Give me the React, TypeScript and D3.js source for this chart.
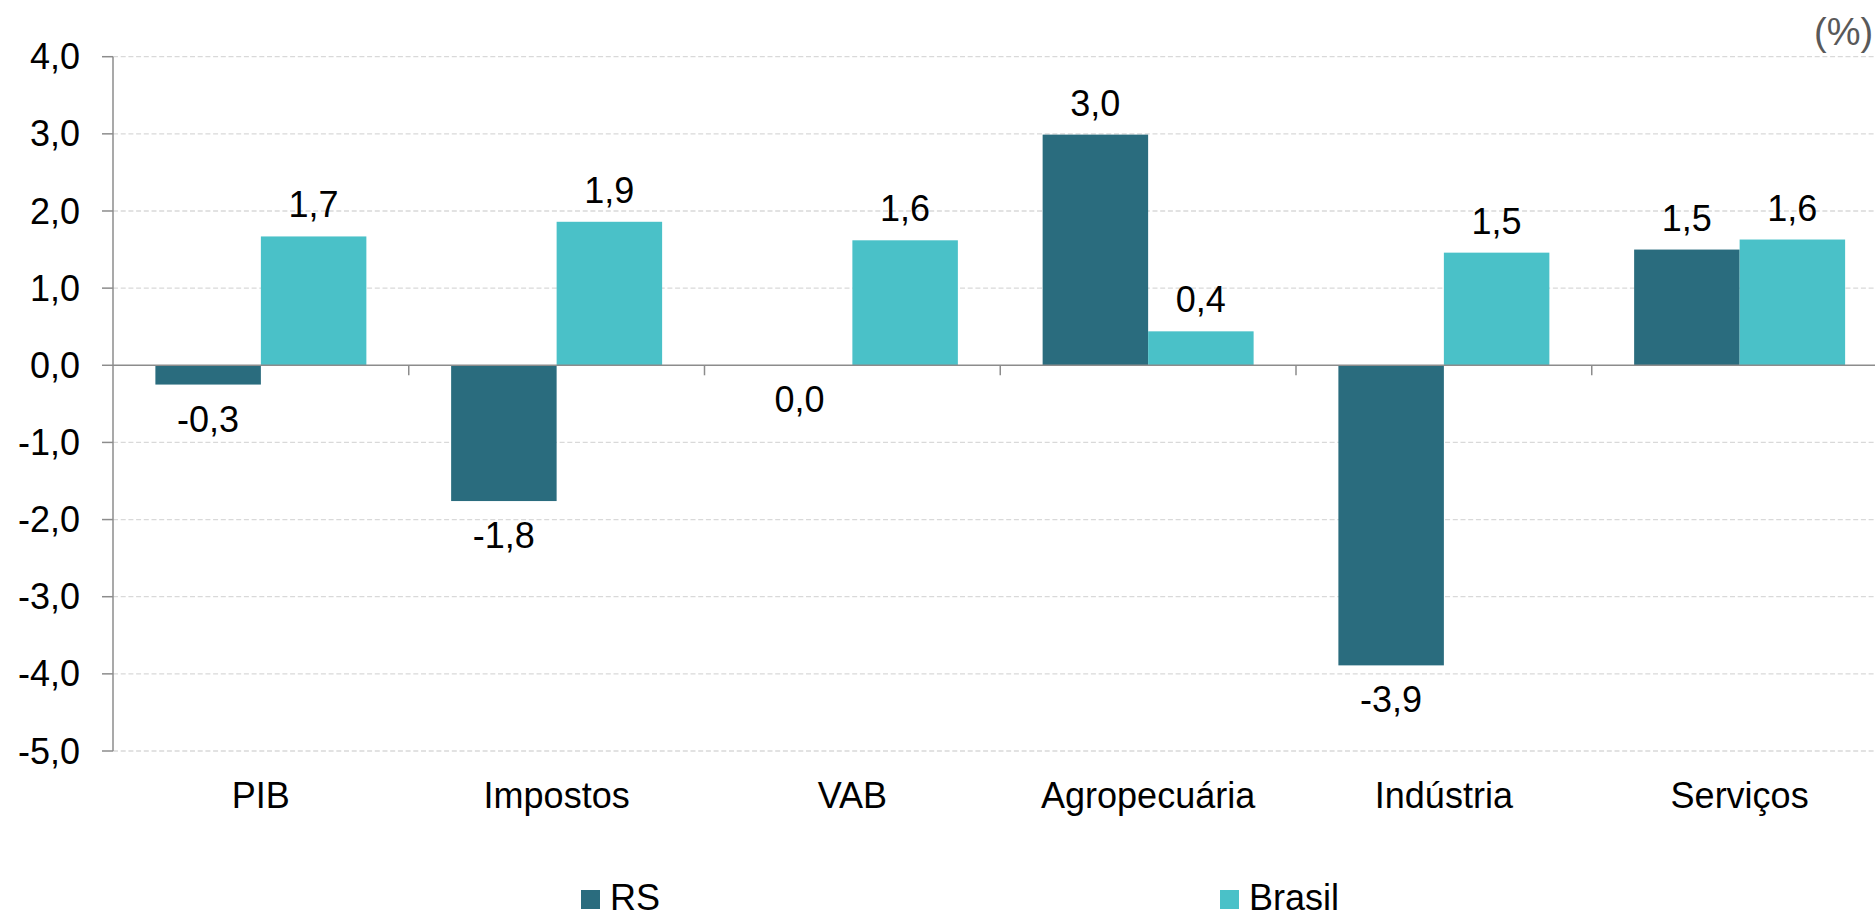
import React from "react";
import * as d3 from "d3";

const categories = ["PIB", "Impostos", "VAB", "Agropecuária", "Indústria", "Serviços"];
const seriesNames = ["RS", "Brasil"];
const rsValues = [-0.25, -1.76, 0.0, 2.99, -3.89, 1.5];
const brasilValues = [1.67, 1.86, 1.62, 0.44, 1.46, 1.63];
const yTicks = [4, 3, 2, 1, 0, -1, -2, -3, -4, -5];
const unitLabel = "(%)";

const W = 1875;
const H = 917;
const FONT = "'Liberation Sans', Arial, Helvetica, sans-serif";
const COLORS = ["#2a6c7e", "#4ac1c8"];

export default function App() {
  const left = 113;
  const right = 1887.5;
  const top = 56.7;
  const bottom = 751;

  const x0 = d3
    .scaleBand<string>()
    .domain(categories)
    .range([left, right])
    .paddingInner(0.2866)
    .paddingOuter(0.1433);
  const x1 = d3.scaleBand<string>().domain(seriesNames).range([0, x0.bandwidth()]).padding(0);
  const y = d3.scaleLinear().domain([-5, 4]).range([bottom, top]);
  const fmt = (v: number) => d3.format(".1f")(v).replace(".", ",").replace("−", "-");

  const step = x0.step();
  const boundaries = d3.range(1, 6).map((k) => left + k * step);
  const series = [rsValues, brasilValues];
  const y0 = y(0);

  return (
    <svg
      width={W}
      height={H}
      style={{ position: "absolute", left: 0, top: 0, background: "#fff" }}
      fontFamily={FONT}
    >
      <rect x={0} y={0} width={W} height={H} fill="#fff" />
      {/* gridlines */}
      {yTicks.map((t) =>
        t === 0 ? null : (
          <line
            key={"g" + t}
            x1={left}
            x2={right}
            y1={y(t)}
            y2={y(t)}
            stroke="#d9d9d9"
            strokeWidth={1.3}
            strokeDasharray="5,2.7"
          />
        )
      )}
      {/* bars */}
      {categories.map((c, i) =>
        seriesNames.map((s, j) => {
          const v = series[j][i];
          const bx = (x0(c) as number) + (x1(s) as number);
          const bw = x1.bandwidth();
          const yTop = Math.min(y(v), y0);
          const h = Math.abs(y(v) - y0);
          return (
            <rect key={c + s} x={bx} y={yTop} width={bw} height={h} fill={COLORS[j]} />
          );
        })
      )}
      {/* zero line */}
      <line x1={left} x2={right} y1={y0} y2={y0} stroke="#8c8c8c" strokeWidth={1.5} />
      {boundaries.map((b, k) => (
        <line key={"ct" + k} x1={b} x2={b} y1={y0} y2={y0 + 10} stroke="#8c8c8c" strokeWidth={1.5} />
      ))}
      {/* y axis */}
      <line x1={left} x2={left} y1={top} y2={bottom} stroke="#8c8c8c" strokeWidth={1.5} />
      {yTicks.map((t) => (
        <g key={"yt" + t}>
          <line x1={left - 11} x2={left} y1={y(t)} y2={y(t)} stroke="#8c8c8c" strokeWidth={1.5} />
          <text x={80} y={y(t)} dy="0.35em" textAnchor="end" fontSize={36} fill="#000">
            {fmt(t)}
          </text>
        </g>
      ))}
      {/* data labels */}
      {categories.map((c, i) =>
        seriesNames.map((s, j) => {
          const v = series[j][i];
          const cx = (x0(c) as number) + (x1(s) as number) + x1.bandwidth() / 2;
          const ly = v > 0 ? y(v) - 19 : Math.max(y(v), y0) + 47;
          return (
            <text key={"l" + c + s} x={cx} y={ly} textAnchor="middle" fontSize={36} fill="#000">
              {fmt(v)}
            </text>
          );
        })
      )}
      {/* category labels */}
      {categories.map((c) => (
        <text
          key={"c" + c}
          x={(x0(c) as number) + x0.bandwidth() / 2}
          y={808}
          textAnchor="middle"
          fontSize={36}
          fill="#000"
        >
          {c}
        </text>
      ))}
      {/* unit */}
      <text x={1814} y={45} fontSize={38} fill="#595959">
        {unitLabel}
      </text>
      {/* legend */}
      {seriesNames.map((s, j) => {
        const lx = [581, 1220][j];
        return (
          <g key={"lg" + s}>
            <rect x={lx} y={890} width={19} height={19} fill={COLORS[j]} />
            <text x={lx + 29} y={910} fontSize={36} fill="#000">
              {s}
            </text>
          </g>
        );
      })}
    </svg>
  );
}
